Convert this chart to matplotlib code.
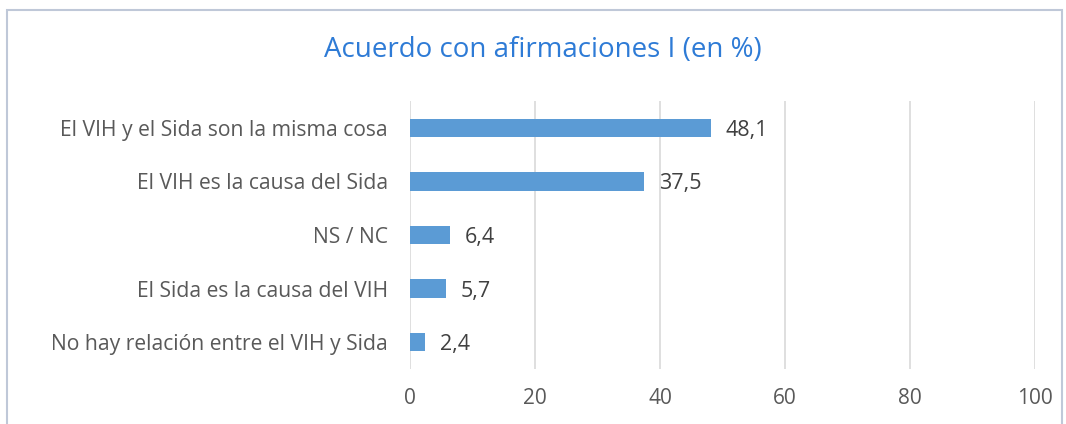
import matplotlib
matplotlib.use("Agg")
import matplotlib.pyplot as plt
from matplotlib.patches import Rectangle

# ---------- Data ----------
categories = [
    "El VIH y el Sida son la misma cosa",
    "El VIH es la causa del Sida",
    "NS / NC",
    "El Sida es la causa del VIH",
    "No hay relación entre el VIH y Sida",
]
values = [48.1, 37.5, 6.4, 5.7, 2.4]
xticks = [0, 20, 40, 60, 80, 100]
title = "Acuerdo con afirmaciones I (en %)"

plt.rcParams["font.family"] = ["Open Sans", "DejaVu Sans"]

text_gray = "#595959"
bar_color = "#5B9BD5"

fig = plt.figure(figsize=(10.66, 4.24), dpi=100)
ax = fig.add_axes([410 / 1066, 1 - 369 / 424, 625 / 1066, 268 / 424])

ypos = list(range(len(categories)))
ax.barh(ypos, values, height=0.34, color=bar_color, zorder=3)

# ---------- Data labels ----------
for y, v in zip(ypos, values):
    ax.annotate(f"{v:.1f}".replace(".", ","), (v, y), xytext=(15, 0),
                textcoords="offset pixels", ha="left", va="center_baseline",
                fontsize=15.5, color="#404040")

# ---------- Axes ----------
ax.set_xlim(0, 100)
ax.set_ylim(len(categories) - 0.5, -0.5)
ax.set_xticks(xticks)
ax.set_xticklabels([str(t) for t in xticks], fontsize=15, color=text_gray)
ax.set_yticks(ypos)
ax.set_yticklabels(categories, fontsize=15.2, color=text_gray)
for lbl in ax.get_yticklabels():
    lbl.set_va("center_baseline")
ax.tick_params(axis="both", length=0)
ax.tick_params(axis="x", pad=14)
ax.tick_params(axis="y", pad=16)
ax.grid(axis="x", color="#D9D9D9", linewidth=1.2, zorder=0)
for s in ax.spines.values():
    s.set_visible(False)

fig.text(543 / 1066, 1 - 50 / 424, title, ha="center", va="center",
         fontsize=20, color="#2E7BD6")

# outer chart border (bottom edge cut off)
fig.patches.append(Rectangle((7 / 1066, -0.1), 1055 / 1066, 1.1 - 10 / 424,
                             transform=fig.transFigure, fill=False,
                             edgecolor="#BFC8D8", linewidth=1.5))

fig.savefig("out.png", dpi=100)
